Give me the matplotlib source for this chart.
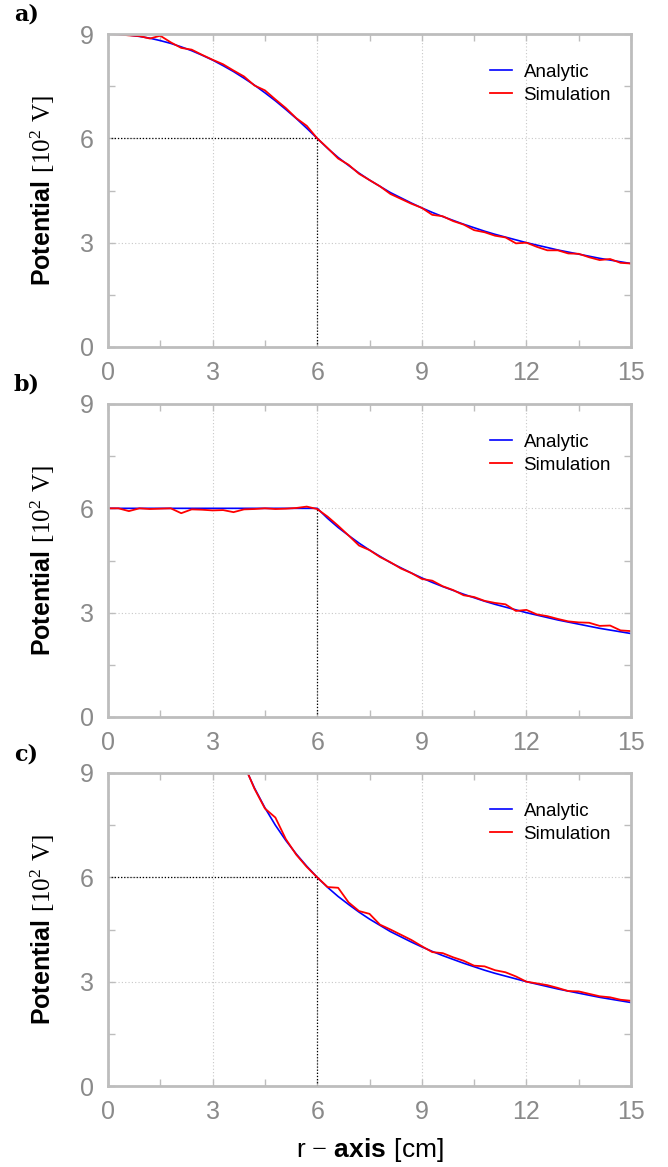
import matplotlib
matplotlib.use("Agg")
import matplotlib.pyplot as plt
from matplotlib.ticker import MultipleLocator

plt.rcParams['mathtext.fontset'] = 'custom'
plt.rcParams['mathtext.rm'] = 'Liberation Serif'
plt.rcParams['mathtext.bf'] = 'Liberation Sans:bold'
plt.rcParams['mathtext.sf'] = 'Liberation Sans'
plt.rcParams['font.family'] = ['Liberation Sans', 'DejaVu Sans']

# ---------------- data ----------------
r_full = [0.0, 0.3, 0.6, 0.9, 1.2, 1.5, 1.8, 2.1, 2.4, 2.7, 3.0, 3.3, 3.6, 3.9, 4.2, 4.5,
          4.8, 5.1, 5.4, 5.7, 6.0, 6.3, 6.6, 6.9, 7.2, 7.5, 7.8, 8.1, 8.4, 8.7, 9.0, 9.3,
          9.6, 9.9, 10.2, 10.5, 10.8, 11.1, 11.4, 11.7, 12.0, 12.3, 12.6, 12.9, 13.2,
          13.5, 13.8, 14.1, 14.4, 14.7, 15.0]

# a) uniformly charged sphere
a_analytic = [9.00, 8.99, 8.97, 8.93, 8.88, 8.81, 8.73, 8.63, 8.52, 8.39, 8.25, 8.09,
              7.92, 7.73, 7.53, 7.31, 7.08, 6.83, 6.57, 6.29, 6.00, 5.71, 5.45, 5.22,
              5.00, 4.80, 4.62, 4.44, 4.29, 4.14, 4.00, 3.87, 3.75, 3.64, 3.53, 3.43,
              3.33, 3.24, 3.16, 3.08, 3.00, 2.93, 2.86, 2.79, 2.73, 2.67, 2.61, 2.55,
              2.50, 2.45, 2.40]
a_sim = [9.00, 8.99, 8.96, 8.94, 8.87, 8.95, 8.76, 8.60, 8.55, 8.40, 8.26, 8.13,
         7.95, 7.78, 7.52, 7.38, 7.12, 6.87, 6.58, 6.36, 6.00, 5.72, 5.42, 5.24,
         4.98, 4.80, 4.62, 4.40, 4.26, 4.12, 4.00, 3.80, 3.76, 3.62, 3.52, 3.36,
         3.30, 3.20, 3.15, 2.98, 3.00, 2.88, 2.78, 2.78, 2.69, 2.68, 2.58, 2.50,
         2.53, 2.42, 2.40]

# b) conducting sphere
b_analytic = [6.00, 6.00, 6.00, 6.00, 6.00, 6.00, 6.00, 6.00, 6.00, 6.00, 6.00, 6.00,
              6.00, 6.00, 6.00, 6.00, 6.00, 6.00, 6.00, 6.00, 6.00, 5.71, 5.45, 5.22,
              5.00, 4.80, 4.62, 4.44, 4.29, 4.14, 4.00, 3.87, 3.75, 3.64, 3.53, 3.43,
              3.33, 3.24, 3.16, 3.08, 3.00, 2.93, 2.86, 2.79, 2.73, 2.67, 2.61, 2.55,
              2.50, 2.45, 2.40]
b_sim = [6.00, 6.00, 5.92, 6.00, 5.98, 5.99, 6.00, 5.86, 5.97, 5.96, 5.94, 5.95,
         5.89, 5.97, 5.98, 6.00, 5.98, 5.99, 6.01, 6.05, 5.98, 5.76, 5.50, 5.22,
         4.93, 4.80, 4.60, 4.45, 4.27, 4.14, 3.97, 3.92, 3.76, 3.65, 3.50, 3.45,
         3.34, 3.28, 3.24, 3.05, 3.08, 2.95, 2.90, 2.82, 2.75, 2.72, 2.71, 2.62,
         2.63, 2.49, 2.47]

# c) point charge
r_c = [3.9, 4.2, 4.5, 4.8, 5.1, 5.4, 5.7, 6.0, 6.3, 6.6, 6.9, 7.2, 7.5, 7.8, 8.1, 8.4,
       8.7, 9.0, 9.3, 9.6, 9.9, 10.2, 10.5, 10.8, 11.1, 11.4, 11.7, 12.0, 12.3, 12.6,
       12.9, 13.2, 13.5, 13.8, 14.1, 14.4, 14.7, 15.0]
c_analytic = [9.23, 8.57, 8.00, 7.50, 7.06, 6.67, 6.32, 6.00, 5.71, 5.45, 5.22, 5.00,
              4.80, 4.62, 4.44, 4.29, 4.14, 4.00, 3.87, 3.75, 3.64, 3.53, 3.43, 3.33,
              3.24, 3.16, 3.08, 3.00, 2.93, 2.86, 2.79, 2.73, 2.67, 2.61, 2.55, 2.50,
              2.45, 2.40]
c_sim = [9.25, 8.55, 7.98, 7.72, 7.10, 6.65, 6.30, 6.00, 5.72, 5.70, 5.28, 5.03,
         4.95, 4.64, 4.50, 4.35, 4.20, 4.02, 3.85, 3.82, 3.70, 3.60, 3.46, 3.44,
         3.33, 3.27, 3.15, 3.00, 2.95, 2.90, 2.82, 2.73, 2.72, 2.65, 2.58, 2.55,
         2.48, 2.45]

panels = [
    ("a)", r_full, a_analytic, r_full, a_sim, True),
    ("b)", r_full, b_analytic, r_full, b_sim, False),
    ("c)", r_c, c_analytic, r_c, c_sim, True),
]

xticks = [0, 3, 6, 9, 12, 15]
yticks = [0, 3, 6, 9]

W, H = 668, 1167
fig = plt.figure(figsize=(W / 100, H / 100), dpi=100)

left_px, right_px = 108, 631
tops_px = [34, 404, 773]
h_px = 313

spine_col = '#bdbdbd'
tick_col = '#8a8a8a'

for i, (lab, rx, ya, rs, ys, hline) in enumerate(panels):
    top = tops_px[i]
    ax = fig.add_axes([left_px / W, 1 - (top + h_px) / H, (right_px - left_px) / W, h_px / H])
    ax.set_xlim(0, 15)
    ax.set_ylim(0, 9)
    ax.set_xticks(xticks)
    ax.set_yticks(yticks)
    ax.xaxis.set_minor_locator(MultipleLocator(1.5))
    ax.yaxis.set_minor_locator(MultipleLocator(1.5))
    ax.grid(True, which='major', color='#c8c8c8', linestyle=(0, (1, 2)), linewidth=0.8)
    ax.set_axisbelow(True)
    for s in ax.spines.values():
        s.set_color(spine_col)
        s.set_linewidth(2)
    ax.tick_params(which='both', direction='in', top=True, right=True,
                   color=spine_col, length=5, width=1)
    ax.tick_params(which='major', labelsize=18, labelcolor=tick_col)
    ax.tick_params(axis='x', which='major', pad=10)
    ax.tick_params(axis='y', which='major', pad=10)

    # reference lines at r = 6
    ax.plot([6, 6], [0, 6], color='black', linestyle=(0, (1, 1.5)), linewidth=0.9)
    if hline:
        ax.plot([0, 6], [6, 6], color='black', linestyle=(0, (1, 1.5)), linewidth=0.9)

    ax.plot(rx, ya, color='#0000ff', linewidth=1.2, label='Analytic')
    ax.plot(rs, ys, color='#ff0000', linewidth=1.3, label='Simulation')

    ax.legend(loc='upper left', bbox_to_anchor=(0.712, 0.935), frameon=False,
              fontsize=13.5, handlelength=1.2, handletextpad=0.6, labelspacing=0.3,
              borderpad=0)

    ax.set_ylabel(r"$\mathbf{Potential}\ \mathrm{[10^2\ V]}$", fontsize=18)
    ax.yaxis.set_label_coords(-0.098, 0.5)

    fig.text(14 / W, 1 - (top - 19) / H, lab, fontsize=16, fontweight='bold',
             family=['DejaVu Serif'], ha='left', va='center')

fig.text((left_px + right_px) / 2 / W, 1 - 1150 / H,
         r"$\mathsf{r}\;{-}\;\mathbf{axis}\ \mathsf{[cm]}$", fontsize=19,
         ha='center', va='center')

fig.savefig("out.png", dpi=100)
